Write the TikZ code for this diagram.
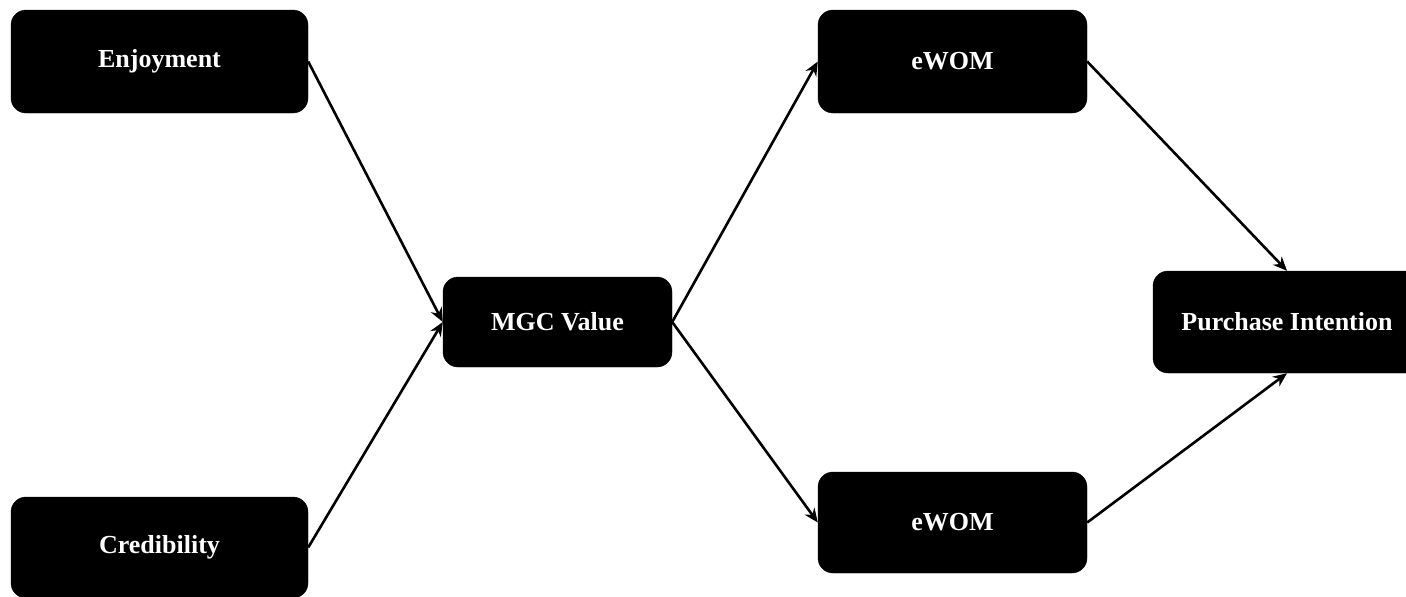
\documentclass[tikz,border=0pt]{standalone}
\usepackage{fontspec}
\setmainfont{Liberation Serif}
\usetikzlibrary{arrows.meta}
\begin{document}
\begin{tikzpicture}[x=1pt,y=-1pt,
  box/.style={fill=black, draw=black, rounded corners=15pt, text=white,
    font=\fontsize{26}{30}\selectfont\bfseries, inner sep=0pt, anchor=center},
  link/.style={line width=2.6pt, -{Stealth[length=14pt,width=12pt]}}]
\useasboundingbox (0,0) rectangle (1406,597);
\node[box, minimum width=297pt, minimum height=103pt] (enj) at (159.5,61.5) {Enjoyment};
\node[box, minimum width=297pt, minimum height=101pt] (cred) at (159.5,547.5) {Credibility};
\node[box, minimum width=229pt, minimum height=90pt] (mgc) at (557.5,322) {MGC Value};
\node[box, minimum width=269pt, minimum height=103pt] (ew1) at (952.5,61.5) {eWOM};
\node[box, minimum width=269pt, minimum height=101pt] (ew2) at (952.5,522.5) {eWOM};
\node[box, minimum width=268pt, minimum height=102pt] (pi) at (1287,322) {Purchase Intention};
\draw[link] (enj.east) -- (mgc.west);
\draw[link] (cred.east) -- (mgc.west);
\draw[link] (mgc.east) -- (ew1.west);
\draw[link] (mgc.east) -- (ew2.west);
\draw[link] (ew1.east) -- (pi.north);
\draw[link] (ew2.east) -- (pi.south);
\end{tikzpicture}
\end{document}
